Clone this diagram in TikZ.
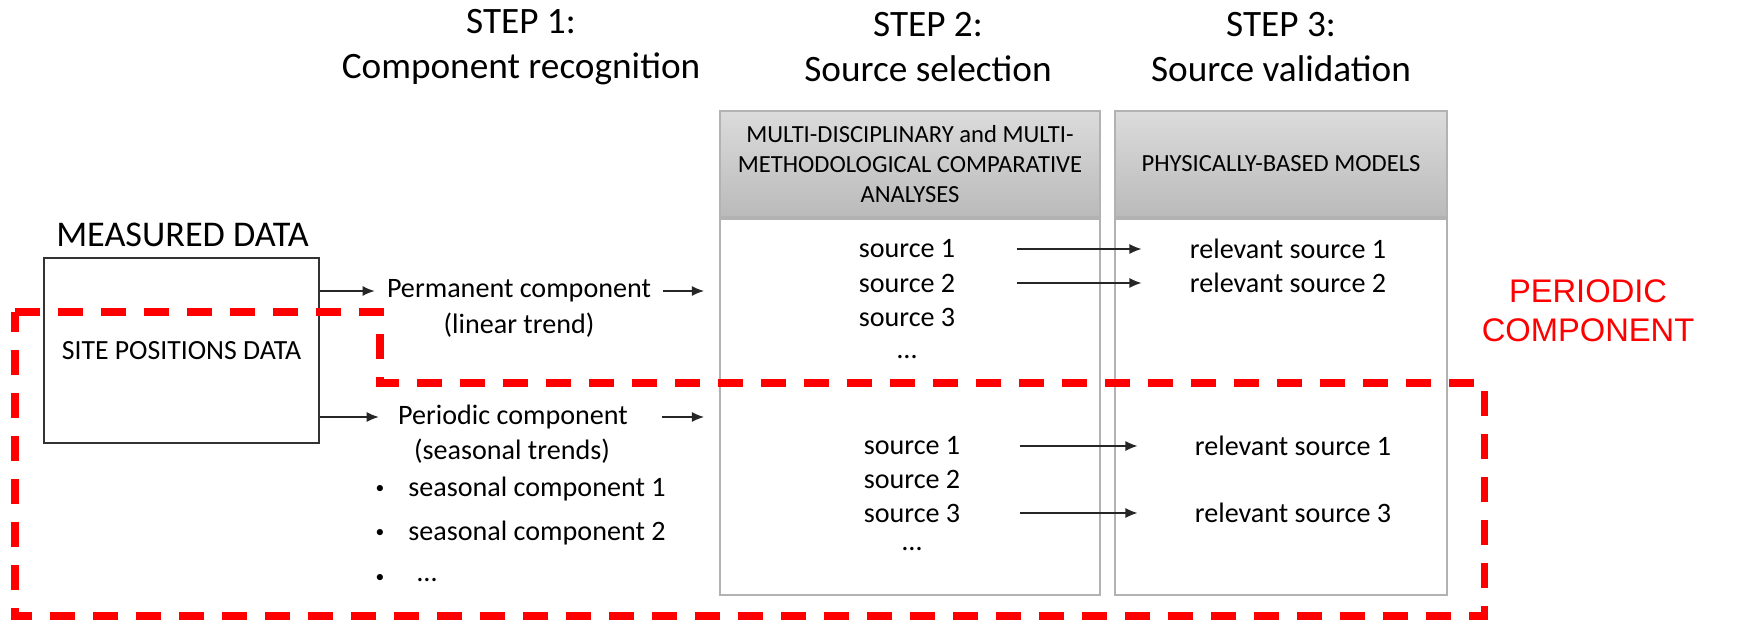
\documentclass[tikz,border=0pt]{standalone}
\usepackage{fontspec}
\setmainfont{Carlito}
\newfontfamily\redfont{Liberation Sans}
\usetikzlibrary{positioning,arrows.meta}

\tikzset{
  stephead/.style={font=\fontsize{10.6}{12.8}\selectfont, align=center},
  colhead/.style={draw=black!30, line width=0.6pt, top color=black!14, bottom color=black!27,
    minimum height=1.06cm, inner sep=0pt, align=center, font=\fontsize{7}{8.5}\selectfont},
  colbody/.style={draw=black!30, line width=0.6pt, fill=white, minimum height=3.76cm},
  measbox/.style={draw=black!80, line width=0.7pt, minimum width=2.75cm, minimum height=1.85cm,
    font=\fontsize{7.9}{9.5}\selectfont},
  txt/.style={font=\fontsize{8}{9.7}\selectfont},
  dot/.style={font=\fontsize{5}{6}\selectfont, inner sep=0pt},
  arr/.style={draw=black!85, line width=0.35pt, -{Latex[length=1.2mm,width=1mm]}},
  zone/.style={draw=red, line width=2pt, dash pattern=on 0.25cm off 0.18cm},
}

\begin{document}
\begin{tikzpicture}
\useasboundingbox (0,0) rectangle (17.39,-6.21);

% step titles
\node[stephead] (st1) at (5.21,-0.47) {STEP 1:\\Component recognition};
\node[stephead] (st2) at (9.28,-0.47) {STEP 2:\\Source selection};
\node[stephead] (st3) at (12.81,-0.47) {STEP 3:\\Source validation};

% measured data
\node[font=\fontsize{10.3}{12}\selectfont] (mtitle) at (1.825,-2.35) {MEASURED DATA};
\node[measbox] (meas) at (1.815,-3.505) {SITE POSITIONS DATA};

% components
\node[txt] (perm) at (5.19,-2.91) {Permanent component};
\node[txt] (lin)  at (5.19,-3.25) {(linear trend)};
\node[txt] (per)  at (5.13,-4.17) {Periodic component};
\node[txt] (seas) at (5.12,-4.51) {(seasonal trends)};
\node[dot] (b1) at (3.80,-4.89) {\textbullet};
\node[dot] (b2) at (3.80,-5.33) {\textbullet};
\node[dot] (b3) at (3.80,-5.78) {\textbullet};
\node[txt, anchor=west] (sc1) at (3.96,-4.89) {seasonal component 1};
\node[txt, anchor=west] (sc2) at (3.96,-5.33) {seasonal component 2};
\node[txt, anchor=west] (sc3) at (4.05,-5.80) {\dots};

% columns
\node[colhead, minimum width=3.80cm] (mh) at (9.10,-1.64)
  {MULTI-DISCIPLINARY and MULTI-\\METHODOLOGICAL COMPARATIVE\\ANALYSES};
\node[colbody, minimum width=3.80cm, below=0 of mh] (sel) {};
\node[colhead, minimum width=3.32cm] (ph) at (12.81,-1.64) {PHYSICALLY-BASED MODELS};
\node[colbody, minimum width=3.32cm, below=0 of ph] (val) {};

% sources
\node[txt] (s1) at (9.07,-2.49) {source 1};
\node[txt] (s2) at (9.07,-2.83) {source 2};
\node[txt] (s3) at (9.07,-3.17) {source 3};
\node[txt] (s4) at (9.07,-3.57) {\dots};
\node[txt] (r1) at (12.88,-2.49) {relevant source 1};
\node[txt] (r2) at (12.88,-2.83) {relevant source 2};

\node[txt] (p1) at (9.12,-4.46) {source 1};
\node[txt] (p2) at (9.12,-4.79) {source 2};
\node[txt] (p3) at (9.12,-5.13) {source 3};
\node[txt] (p4) at (9.12,-5.49) {\dots};
\node[txt] (q1) at (12.93,-4.46) {relevant source 1};
\node[txt] (q3) at (12.93,-5.13) {relevant source 3};

% Connect nodes
\draw[arr] (meas.east |- perm) -- (perm.west);
\draw[arr, shorten >=0.07cm] (meas.east |- per) -- (per.west);
\draw[arr, shorten >=0.15cm] (perm.east) -- (perm.east -| sel.west);
\draw[arr, shorten <=0.22cm, shorten >=0.15cm] (per.east) -- (per.east -| sel.west);
\draw[arr, shorten <=0.49cm, shorten >=0.36cm] (s1.east) -- (s1.east -| r1.west);
\draw[arr, shorten <=0.49cm, shorten >=0.36cm] (s2.east) -- (s2.east -| r2.west);
\draw[arr, shorten <=0.47cm, shorten >=0.45cm] (p1.east) -- (p1.east -| q1.west);
\draw[arr, shorten <=0.47cm, shorten >=0.45cm] (p3.east) -- (p3.east -| q3.west);

% periodic zone
\draw[zone] (0.15,-3.12) -- (3.80,-3.12) -- (3.80,-3.83) -- (14.84,-3.83)
  -- (14.84,-6.16) -- (0.15,-6.16) -- cycle;
\node[font=\redfont\fontsize{9.3}{11.1}\selectfont, text=red, align=center] (pc)
  at (15.88,-3.105) {PERIODIC\\COMPONENT};

\end{tikzpicture}
\end{document}
